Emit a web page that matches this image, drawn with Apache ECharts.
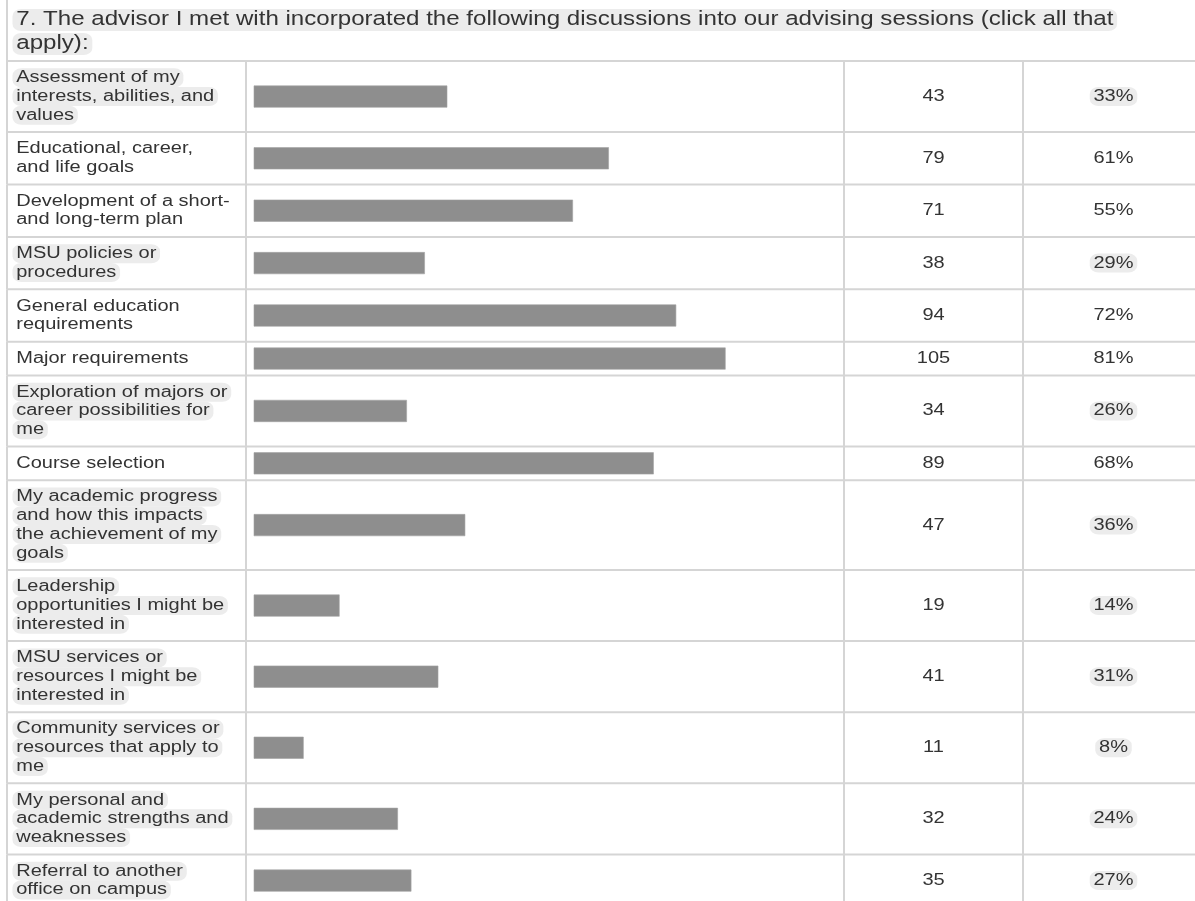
<!DOCTYPE html>
<html>
<head>
<meta charset="utf-8">
<script src="https://cdn.jsdelivr.net/npm/echarts@6/dist/echarts.min.js"></script>
<style>
  html, body { margin: 0; padding: 0; background: #ffffff; }
  #chart { width: 1195px; height: 901px; }
</style>
</head>
<body>
<div id="chart"></div>
<script>
// ---------------- data ----------------
const titleLines = [
  '7. The advisor I met with incorporated the following discussions into our advising sessions (click all that',
  'apply):'
];
const categories = [
  'Assessment of my\ninterests, abilities, and\nvalues',
  'Educational, career,\nand life goals',
  'Development of a short-\nand long-term plan',
  'MSU policies or\nprocedures',
  'General education\nrequirements',
  'Major requirements',
  'Exploration of majors or\ncareer possibilities for\nme',
  'Course selection',
  'My academic progress\nand how this impacts\nthe achievement of my\ngoals',
  'Leadership\nopportunities I might be\ninterested in',
  'MSU services or\nresources I might be\ninterested in',
  'Community services or\nresources that apply to\nme',
  'My personal and\nacademic strengths and\nweaknesses',
  'Referral to another\noffice on campus'
];
const counts   = [43, 79, 71, 38, 94, 105, 34, 89, 47, 19, 41, 11, 32, 35];
const percents = [33, 61, 55, 29, 72, 81, 26, 68, 36, 14, 31, 8, 24, 27];
const respondents = 131;

// ---------------- layout ----------------
const SX = 1.25;               // horizontal stretch of the text
const FONT_ROW = '16px "Liberation Sans", Arial, sans-serif';
const FONT_TITLE = '19.3px "Liberation Sans", Arial, sans-serif';
const TEXT_COLOR = '#333333';
const HL_COLOR = '#ececec';
const LINE_COLOR = '#d5d5d5';
const LINE_H = 18.7, ROW_PAD = 15;
const TABLE_TOP = 61;
const VISIBLE_H = 901 - TABLE_TOP;   // grid covers the visible part, 1 unit = 1 px
const X_LEFT = 7, X_BARCOL = 246, X_COUNTCOL = 844, X_PCTCOL = 1023, X_RIGHT = 1203;
const LABEL_X = 12.5;

const lineCounts = categories.map(c => c.split('\n').length);
const rowHeights = lineCounts.map(n => ROW_PAD + LINE_H * n);
const rowTops = [];
let acc = 0;
rowHeights.forEach(h => { rowTops.push(acc); acc += h; });

function textEl(str, x, y, font, align, highlighted) {
  return {
    type: 'text',
    x: x, y: y,
    scaleX: SX,
    style: {
      text: str, x: 0, y: 0,
      font: font,
      fill: TEXT_COLOR,
      align: align, textAlign: align,
      verticalAlign: 'middle', textVerticalAlign: 'middle',
      backgroundColor: highlighted ? HL_COLOR : 'transparent',
      borderRadius: 7,
      padding: [2, 3, 1, 3]
    },
    silent: true
  };
}

function renderTableRow(params, api) {
  const i = api.value(1);
  const top = rowTops[i], bot = top + rowHeights[i], mid = (top + bot) / 2;
  const yT = api.coord([0, top])[1];
  const yB = api.coord([0, bot])[1];
  const yM = api.coord([0, mid])[1];
  const pct = percents[i];
  const hl = pct < 50;
  const lineStyle = { stroke: LINE_COLOR, lineWidth: 2 };
  const children = [];
  if (i === 0) {
    children.push({ type: 'line', shape: { x1: X_LEFT, y1: yT, x2: X_RIGHT, y2: yT }, style: lineStyle });
  }
  children.push({ type: 'line', shape: { x1: X_LEFT, y1: yB, x2: X_RIGHT, y2: yB }, style: lineStyle });
  [X_LEFT, X_BARCOL, X_COUNTCOL, X_PCTCOL, X_RIGHT].forEach(x => {
    children.push({ type: 'line', shape: { x1: x, y1: yT, x2: x, y2: yB }, style: lineStyle });
  });
  const lines = categories[i].split('\n');
  const n = lines.length;
  lines.forEach((ln, k) => {
    const yy = yM + (k - (n - 1) / 2) * LINE_H;
    children.push(textEl(ln, LABEL_X, yy, FONT_ROW, 'left', hl));
  });
  children.push(textEl(String(api.value(0)), (X_COUNTCOL + X_PCTCOL) / 2, yM, FONT_ROW, 'center', false));
  children.push(textEl(pct + '%', (X_PCTCOL + X_RIGHT) / 2 + 0.5, yM, FONT_ROW, 'center', hl));
  return { type: 'group', children: children };
}

function renderBar(params, api) {
  const i = api.value(1);
  const mid = rowTops[i] + rowHeights[i] / 2;
  const p0 = api.coord([0, mid]);
  const p1 = api.coord([api.value(0), mid]);
  const h = 21.5;
  return {
    type: 'rect',
    shape: { x: p0[0], y: p0[1] - h / 2, width: p1[0] - p0[0], height: h },
    style: { fill: '#8e8e8e', stroke: '#a2a2a2', lineWidth: 0.6 }
  };
}

const rowData = counts.map((c, i) => [c, i]);

const titleEls = titleLines.map((t, k) => textEl(t, LABEL_X, 20 + k * 24, FONT_TITLE, 'left', true));
titleEls.unshift({ type: 'line', shape: { x1: X_LEFT, y1: 0, x2: X_LEFT, y2: TABLE_TOP }, style: { stroke: LINE_COLOR, lineWidth: 2 }, silent: true });

const chart = echarts.init(document.getElementById('chart'), null, { renderer: 'canvas' });
chart.setOption({
  backgroundColor: '#ffffff',
  animation: false,
  grid: { left: 254, width: 588, top: TABLE_TOP, height: VISIBLE_H, containLabel: false },
  xAxis: { type: 'value', min: 0, max: respondents, show: false },
  yAxis: { type: 'value', min: 0, max: VISIBLE_H, inverse: true, show: false },
  graphic: { elements: titleEls },
  series: [
    { type: 'custom', name: 'table', renderItem: renderTableRow, data: rowData, z: 1, silent: true, clip: false },
    { type: 'custom', name: 'Responses', renderItem: renderBar, data: rowData, z: 2, silent: true, clip: false }
  ]
});
</script>
</body>
</html>
